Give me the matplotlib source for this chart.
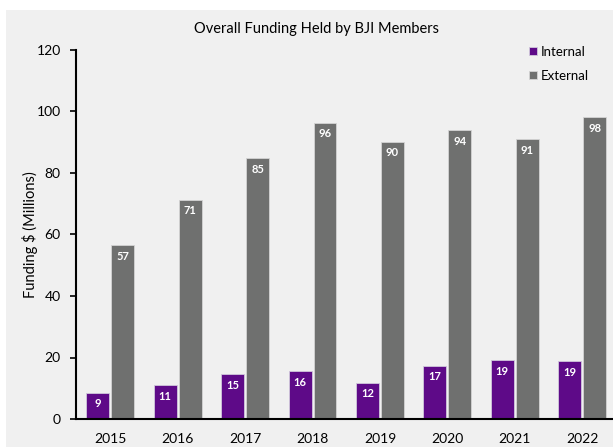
import matplotlib
matplotlib.use("Agg")
import matplotlib.pyplot as plt
from matplotlib.patches import Rectangle
import numpy as np

years = ["2015", "2016", "2017", "2018", "2019", "2020", "2021", "2022"]
internal = [8.6, 10.9, 14.6, 15.6, 11.8, 17.3, 19.1, 18.8]
external = [56.6, 71.3, 84.8, 96.3, 90.2, 93.9, 91.0, 98.1]
y_ticks = [0, 20, 40, 60, 80, 100, 120]

plt.rcParams['font.family'] = ['Lato', 'DejaVu Sans']

W, H = 613, 447
fig = plt.figure(figsize=(W / 100, H / 100), dpi=100)
fig.patch.set_facecolor("white")
bg = Rectangle((6 / W, 0), 1 - 6 / W, 1 - 10 / H, transform=fig.transFigure,
               facecolor="#f0f0f0", edgecolor="none", zorder=-10)
fig.patches.append(bg)

ax = fig.add_axes([76 / W, 28 / H, 540.5 / W, 369 / H])
ax.set_facecolor("none")
ax.set_zorder(1)

x = np.arange(len(years))
bw = 0.34
gap = 0.015
purple = "#5e0a88"
grey = "#6f706f"
b1 = ax.bar(x - bw / 2 - gap, internal, bw, color=purple, edgecolor="#d0c8dc",
            linewidth=0.6, label="Internal", zorder=2)
b2 = ax.bar(x + bw / 2 + gap, external, bw, color=grey, edgecolor="#d4d4d4",
            linewidth=0.6, label="External", zorder=2)

for bars, vals in ((b1, internal), (b2, external)):
    for r, v in zip(bars, vals):
        ax.annotate(f"{v:.0f}", (r.get_x() + r.get_width() / 2, v),
                    xytext=(0, -8), textcoords="offset points",
                    ha="center", va="center", color="white",
                    fontsize=8, fontweight="bold")

ax.set_xlim(-0.51, 7.51)
ax.set_ylim(0, 120)
ax.set_yticks(y_ticks)
ax.set_xticks(x)
ax.set_xticklabels(years)
ax.tick_params(axis="x", length=0, pad=10, labelsize=10)
ax.tick_params(axis="y", length=4, width=1.2, direction="out", labelsize=10, pad=7)
for s in ("top", "right"):
    ax.spines[s].set_visible(False)
ax.spines["left"].set_linewidth(1.5)
ax.spines["bottom"].set_linewidth(1.5)

ax.set_ylabel("Funding $ (Millions)", fontsize=10.5, labelpad=-1)
fig.text(316 / W, 1 - 29 / H, "Overall Funding Held by BJI Members",
         ha="center", va="center", fontsize=10.5)

leg = fig.legend(handles=[b1, b2], labels=["Internal", "External"],
                 loc="upper left", bbox_to_anchor=(517 / W, 1 - 34 / H),
                 frameon=False, fontsize=9.5, handlelength=0.6, handleheight=0.6,
                 handletextpad=0.3, labelspacing=0.9)

fig.savefig("out.png", dpi=100, facecolor="white")
